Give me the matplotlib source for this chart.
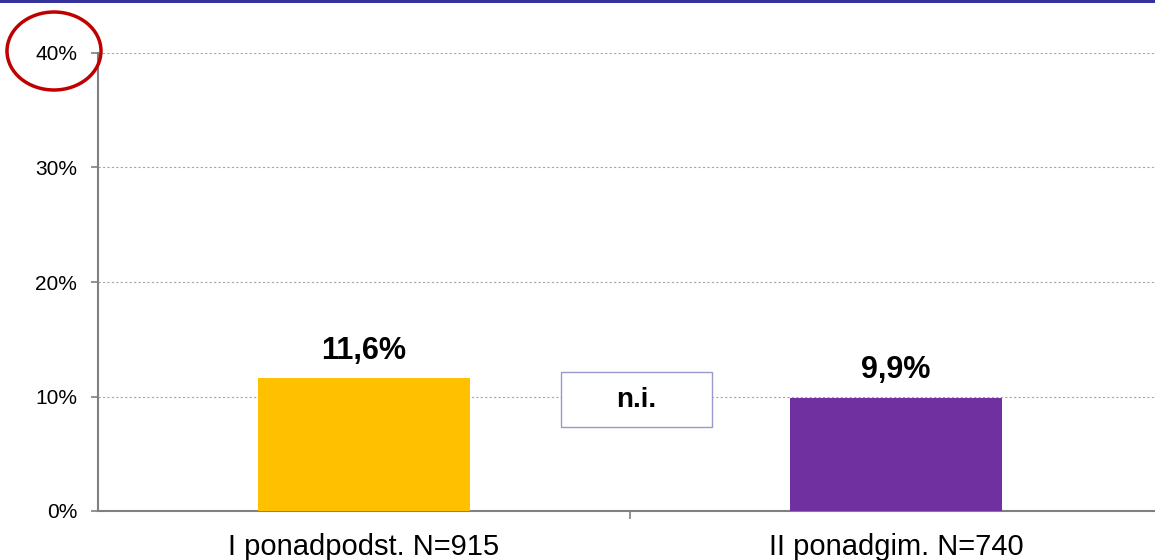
import matplotlib.pyplot as plt
from matplotlib.patches import Ellipse, Rectangle

categories = ['I ponadpodst. N=915', 'II ponadgim. N=740']
values = [11.6, 9.9]
value_labels = ['11,6%', '9,9%']
bar_colors = ['#FFC000', '#7030A0']
y_ticks = [0, 10, 20, 30, 40]
note_text = 'n.i.'

plt.rcParams['font.family'] = ['Liberation Sans', 'DejaVu Sans']

W, H = 1155, 560
fig = plt.figure(figsize=(W / 100, H / 100), dpi=100)
ax = fig.add_axes([98 / W, (H - 511) / H, (1162 - 98) / W, (511 - 53) / H])

ax.bar(range(len(values)), values, width=0.4, color=bar_colors, zorder=3)
for i, (v, lab) in enumerate(zip(values, value_labels)):
    ax.annotate(lab, (i, v), xytext=(0, 9), textcoords='offset points',
                ha='center', va='bottom', fontsize=22, fontweight='bold')

ax.set_xlim(-0.5, 1.5)
ax.set_ylim(0, 40)
ax.set_yticks(y_ticks)
ax.set_yticklabels([f'{t}%' for t in y_ticks], fontsize=15)
ax.yaxis.grid(True, color='#a6a6a6', linestyle=(0, (2, 2)), linewidth=0.8)
ax.set_axisbelow(True)

ax.set_xticks([0.5])
ax.set_xticklabels([''])
ax.tick_params(axis='x', length=6, color='#808080', width=1.2)
ax.tick_params(axis='y', length=5, color='#808080', width=1.2, pad=10)
for i, c in enumerate(categories):
    ax.text(i, -1.9, c, ha='center', va='top', fontsize=21)

for s in ['top', 'right']:
    ax.spines[s].set_visible(False)
for s in ['left', 'bottom']:
    ax.spines[s].set_color('#808080')
    ax.spines[s].set_linewidth(1.5)

# n.i. box, placed by hand between the two bars
fig.patches.append(Rectangle((561 / W, (H - 427) / H), (712 - 561) / W, (427 - 372) / H,
                             transform=fig.transFigure, facecolor='white',
                             edgecolor='#9999cc', linewidth=1, zorder=4))
fig.text(636.5 / W, (H - 400) / H, note_text, ha='center', va='center',
         fontsize=20, fontweight='bold', zorder=6)

fig.patches.append(Rectangle((0, (H - 3) / H), 1, 3 / H, transform=fig.transFigure,
                             facecolor='#333399', edgecolor='none'))
fig.patches.append(Ellipse((54 / W, (H - 51) / H), 94 / W, 78 / H,
                           transform=fig.transFigure, facecolor='none',
                           edgecolor='#c00000', linewidth=2.5))

fig.savefig('out.png', dpi=100)
